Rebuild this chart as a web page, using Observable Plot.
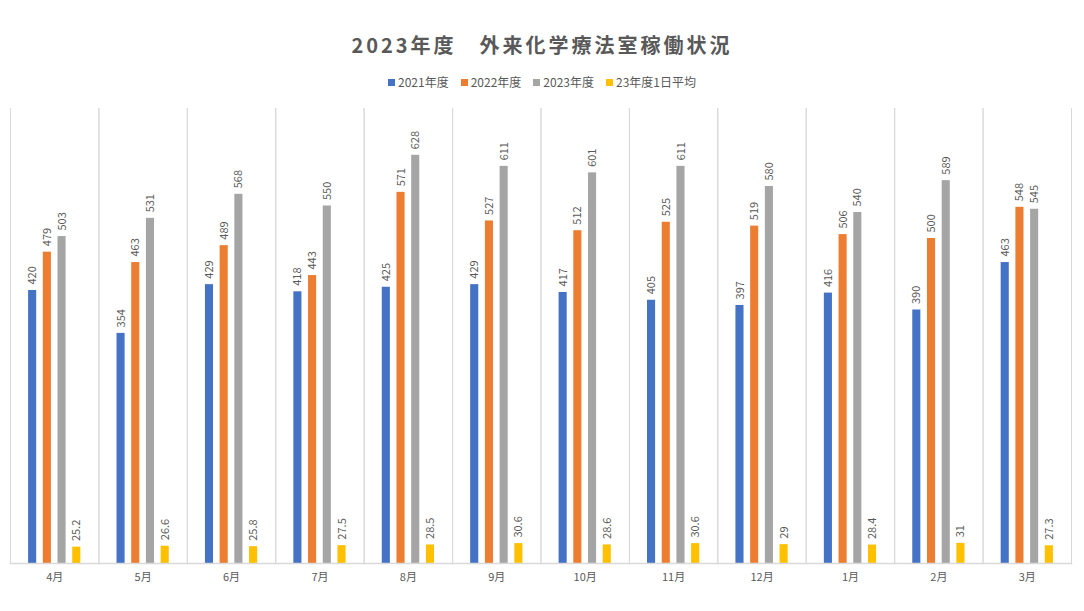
<!DOCTYPE html>
<html>
<head>
<meta charset="utf-8">
<script src="https://cdn.jsdelivr.net/npm/d3@7"></script>
<script src="https://cdn.jsdelivr.net/npm/@observablehq/plot@0.6"></script>
<style>
  html, body { margin: 0; padding: 0; background: #fff; }
  body { width: 1084px; height: 611px; overflow: hidden; font-family: "Noto Sans CJK JP", "Noto Sans", sans-serif; }
  #title { height: 64px; box-sizing: border-box; padding-top: 31px; text-align: center; font-size: 20px; font-weight: bold; color: #595959; letter-spacing: 3px; line-height: 28px; }
  #legend { height: 36px; display: flex; justify-content: center; align-items: flex-start; padding-top: 9px; box-sizing: border-box; font-size: 12px; color: #595959; line-height: 18px; }
  .item { display: flex; align-items: center; margin: 0 6px; }
  .sw { width: 7px; height: 7px; margin-right: 3px; }
</style>
</head>
<body>
<div id="title">2023年度　外来化学療法室稼働状況</div>
<div id="legend"></div>
<div id="chart"></div>
<script>
const months = ["4月","5月","6月","7月","8月","9月","10月","11月","12月","1月","2月","3月"];
const seriesNames = ["2021年度","2022年度","2023年度","23年度1日平均"];
const colors = ["#4472C4","#ED7D31","#A5A5A5","#FFC000"];
const y2021 = [420,354,429,418,425,429,417,405,397,416,390,463];
const y2022 = [479,463,489,443,571,527,512,525,519,506,500,548];
const y2023 = [503,531,568,550,628,611,601,611,580,540,589,545];
const avg23 = [25.2,26.6,25.8,27.5,28.5,30.6,28.6,30.6,29,28.4,31,27.3];

const seriesValues = [y2021, y2022, y2023, avg23];
const data = [];
months.forEach((m, i) => {
  seriesNames.forEach((s, j) => {
    data.push({month: m, series: s, value: seriesValues[j][i]});
  });
});

// legend
const legend = document.getElementById("legend");
seriesNames.forEach((s, j) => {
  const it = document.createElement("div");
  it.className = "item";
  it.innerHTML = `<span class="sw" style="background:${colors[j]}"></span><span>${s}</span>`;
  legend.appendChild(it);
});

const grid = "#d9d9d9";
const chart = Plot.plot({
  width: 1084,
  height: 511,
  marginTop: 8,
  marginBottom: 48,
  marginLeft: 10,
  marginRight: 13,
  style: {fontFamily: "'Noto Sans CJK JP', 'Noto Sans', sans-serif", color: "#595959", background: "#fff"},
  fx: {domain: months, paddingInner: 0, paddingOuter: 0, round: false, label: null},
  x: {domain: seriesNames, axis: null, paddingInner: 0.45, paddingOuter: 1.23, round: false},
  y: {domain: [0, 700], axis: null},
  color: {domain: seriesNames, range: colors},
  marks: [
    Plot.frame({anchor: "left", stroke: grid, strokeWidth: 1}),
    Plot.frame({anchor: "right", stroke: grid, strokeWidth: 1}),
    Plot.barY(data, {fx: "month", x: "series", y: "value", fill: "series"}),
    Plot.frame({anchor: "bottom", stroke: grid, strokeWidth: 1.5}),
    Plot.text(data, {fx: "month", x: "series", y: "value", text: d => String(d.value),
      rotate: -90, textAnchor: "start", lineAnchor: "middle", dy: -6, fontSize: 11, fill: "#595959"}),
    Plot.axisFx({anchor: "bottom", tickSize: 0, tickPadding: 10, fontSize: 11, label: null, fill: "#595959"})
  ]
});
document.getElementById("chart").appendChild(chart);
</script>
</body>
</html>
